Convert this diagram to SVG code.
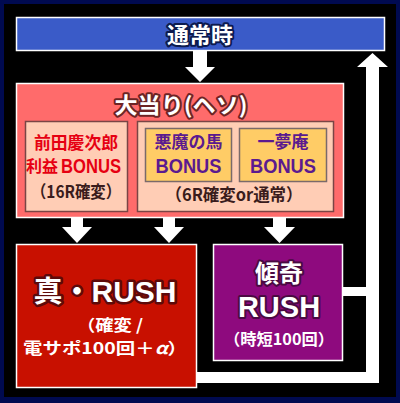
<svg xmlns="http://www.w3.org/2000/svg" width="400" height="403" viewBox="0 0 400 403">
<style>
.jp{font-family:"Noto Sans CJK JP","Noto Sans",sans-serif;font-weight:bold;text-anchor:middle}
.lat{font-family:"Liberation Sans",Arial,sans-serif;font-weight:bold}
.wt{fill:#fff;stroke-linejoin:round;paint-order:stroke}
.con{fill:#fff}
</style>
<rect x="0" y="0" width="400" height="403" fill="#000a50"/>
<rect x="4" y="4" width="392" height="393" fill="#000"/>
<g id="connectors">
<polygon class="con" points="193,51 207,51 207,67 215,67 200,82 185,67 193,67"/>
<polygon class="con" points="71,212 83,212 83,227 92,227 77,243 62,227 71,227"/>
<polygon class="con" points="163,212 175,212 175,227 184,227 169,243 154,227 163,227"/>
<polygon class="con" points="273,212 286,212 286,227 295,227 279.5,243 264,227 273,227"/>
<polygon class="con" points="197,372 366,372 366,67 357,67 372.5,53 388,67 379,67 379,383 197,383"/>
<rect class="con" x="343" y="287" width="24" height="9"/>
</g>
<g id="normal">
<rect x="16.5" y="17.5" width="368" height="33" fill="#3a5bc8" stroke="#fff" stroke-width="1.5"/>
<text class="jp wt" x="200" y="43" font-size="22" stroke="#0c1a4e" stroke-width="4">通常時</text>
</g>
<g id="jackpot">
<rect x="16.5" y="83.5" width="327" height="134" fill="#ff6b6b" stroke="#fff" stroke-width="1.5"/>
<text class="jp wt" x="181" y="113" font-size="22" stroke="#6e2424" stroke-width="4" textLength="133" lengthAdjust="spacingAndGlyphs">大当り(ヘソ)</text>
</g>
<g id="maeda">
<rect x="25.5" y="121.5" width="102" height="90" fill="#ffcdb5" stroke="#7a4545" stroke-width="1.5"/>
<text class="jp" x="76" y="149" font-size="17" fill="#e60012" textLength="84" lengthAdjust="spacingAndGlyphs">前田慶次郎</text>
<text class="jp" x="42" y="172" font-size="16" fill="#e60012">利益</text>
<text class="lat" x="91" y="173" font-size="21" fill="#e60012" text-anchor="middle" textLength="60" lengthAdjust="spacingAndGlyphs">BONUS</text>
<text class="jp" x="76" y="198" font-size="17" fill="#3a1c1c" textLength="90" lengthAdjust="spacingAndGlyphs">（16R確変）</text>
</g>
<g id="group6r">
<rect x="137.5" y="121.5" width="196" height="90" fill="#ffcdb5" stroke="#7a4545" stroke-width="1.5"/>
<text class="jp" x="234" y="201" font-size="17" fill="#3a1c1c" textLength="137" lengthAdjust="spacingAndGlyphs">（6R確変or通常）</text>
</g>
<g id="akuma">
<rect x="145.5" y="128.5" width="86" height="53" fill="#ffcc66" stroke="#7a6a6a" stroke-width="1.5"/>
<text class="jp" x="188.5" y="148" font-size="17" fill="#5b1a8f">悪魔の馬</text>
<text class="lat" x="188.5" y="173" font-size="21" text-anchor="middle" fill="#5b1a8f" textLength="66" lengthAdjust="spacingAndGlyphs">BONUS</text>
</g>
<g id="ichimuan">
<rect x="239.5" y="128.5" width="87" height="53" fill="#ffcc66" stroke="#7a6a6a" stroke-width="1.5"/>
<text class="jp" x="283" y="148" font-size="17" fill="#5b1a8f">一夢庵</text>
<text class="lat" x="283" y="173" font-size="21" text-anchor="middle" fill="#5b1a8f" textLength="66" lengthAdjust="spacingAndGlyphs">BONUS</text>
</g>
<g id="shin-rush">
<rect x="16.5" y="244.5" width="180" height="143" fill="#c81000" stroke="#fff" stroke-width="1.5"/>
<text class="jp wt" x="105" y="302" font-size="29" stroke="#5e0a0a" stroke-width="5">真・<tspan class="lat" font-size="30">RUSH</tspan></text>
<text class="jp wt" x="110" y="331" font-size="16" textLength="66" lengthAdjust="spacingAndGlyphs">（確変 /</text>
<text class="jp wt" x="105" y="354" font-size="16" textLength="164" lengthAdjust="spacingAndGlyphs">電サポ100回＋<tspan font-style="italic">α</tspan>）</text>
</g>
<g id="kabuki-rush">
<rect x="213.5" y="244.5" width="129" height="116" fill="#8e0a7e" stroke="#fff" stroke-width="1.5"/>
<text class="jp wt" x="279" y="282" font-size="24" stroke="#4a0a42" stroke-width="4">傾奇</text>
<text class="lat wt" x="279" y="317" font-size="29" text-anchor="middle" stroke="#4a0a42" stroke-width="4">RUSH</text>
<text class="jp wt" x="279" y="345" font-size="16" textLength="110" lengthAdjust="spacingAndGlyphs">（時短100回）</text>
</g>
</svg>
